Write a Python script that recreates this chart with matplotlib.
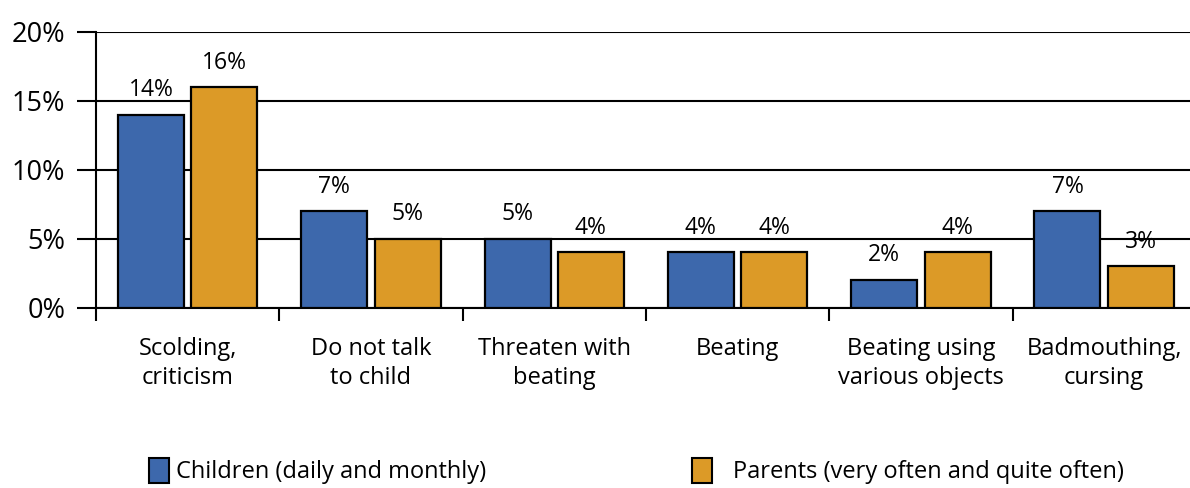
import matplotlib
matplotlib.use("Agg")
import matplotlib.pyplot as plt
from matplotlib.patches import Patch
import numpy as np

categories = ["Scolding,\ncriticism", "Do not talk\nto child", "Threaten with\nbeating",
              "Beating", "Beating using\nvarious objects", "Badmouthing,\ncursing"]
children = [14, 7, 5, 4, 2, 7]
parents = [16, 5, 4, 4, 4, 3]
series_names = ["Children (daily and monthly)", "Parents (very often and quite often)"]
y_ticks = [0, 5, 10, 15, 20]
y_tick_labels = ["0%", "5%", "10%", "15%", "20%"]

BLUE = "#3D68AC"
ORANGE = "#DC9A27"

plt.rcParams['font.family'] = ['Open Sans', 'DejaVu Sans']

W, H = 1190, 488
fig = plt.figure(figsize=(W / 100, H / 100), dpi=100)
left_px, right_px, top_px, bottom_px = 96, 1190, 32, 307.5
ax = fig.add_axes([left_px / W, (H - bottom_px) / H, (right_px - left_px) / W, (bottom_px - top_px) / H])

cat_px = 183.3
n = len(categories)
x = np.arange(n)
bw = 0.36
off = 0.2
ax.bar(x - off, children, bw, color=BLUE, edgecolor="black", linewidth=1.6, zorder=3)
ax.bar(x + off, parents, bw, color=ORANGE, edgecolor="black", linewidth=1.6, zorder=3)

for xi, v in zip(x - off, children):
    ax.annotate(f"{v}%", (xi, v), xytext=(0, 9), textcoords="offset points",
                ha="center", va="bottom", fontsize=16.5)
for xi, v in zip(x + off, parents):
    ax.annotate(f"{v}%", (xi, v), xytext=(0, 9), textcoords="offset points",
                ha="center", va="bottom", fontsize=16.5)

ax.set_xlim(-0.5, -0.5 + (right_px - left_px) / cat_px)
ax.set_ylim(0, 20)

ax.set_yticks(y_ticks)
ax.set_yticklabels(y_tick_labels, fontsize=19.5)
ax.yaxis.grid(True, color="black", linewidth=1.5, zorder=0)
ax.set_axisbelow(True)
ax.tick_params(axis="y", length=14, width=1.5, pad=8, direction="out")

ax.set_xticks(np.arange(n) - 0.5)
ax.set_xticklabels([])
ax.tick_params(axis="x", which="major", length=9.5, width=1.5, direction="out")
ax.set_xticks(x, minor=True)
ax.set_xticklabels(categories, minor=True, fontsize=17, linespacing=1.3)
ax.tick_params(axis="x", which="minor", length=0, pad=21)

for s in ["top", "right"]:
    ax.spines[s].set_visible(False)
ax.spines["left"].set_linewidth(1.5)
ax.spines["bottom"].set_linewidth(1.5)

h1 = [Patch(facecolor=BLUE, edgecolor="black", linewidth=1.5)]
h2 = [Patch(facecolor=ORANGE, edgecolor="black", linewidth=1.5)]
ly = 1 - 471 / H
fig.legend(h1, series_names[:1], loc="center left", bbox_to_anchor=(149 / W, ly),
           frameon=False, fontsize=17, handlelength=0.85, handleheight=1.25,
           handletextpad=0.3, borderaxespad=0, borderpad=0)
fig.legend(h2, series_names[1:], loc="center left", bbox_to_anchor=(692 / W, ly),
           frameon=False, fontsize=17, handlelength=0.85, handleheight=1.25,
           handletextpad=0.9, borderaxespad=0, borderpad=0)

fig.savefig("out.png", dpi=100)
